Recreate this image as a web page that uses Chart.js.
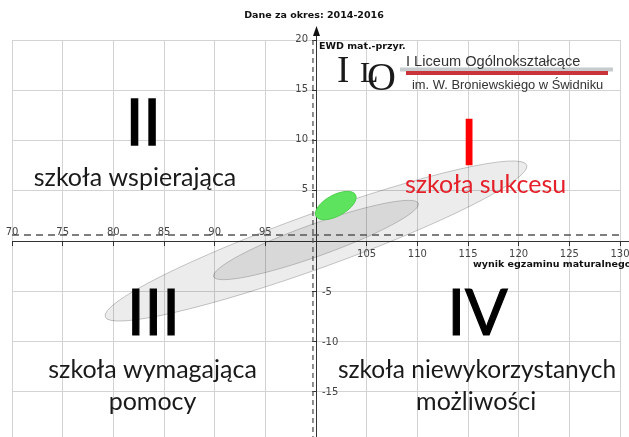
<!DOCTYPE html>
<html><head><meta charset="utf-8">
<script src="https://cdn.jsdelivr.net/npm/chart.js@4.4.1/dist/chart.umd.min.js"></script>
<style>html,body{margin:0;padding:0;background:#fff;overflow:hidden}</style>
</head><body><canvas id="c" width="629" height="437"></canvas>
<script>
// ---- data ----
const xTicks = [70,75,80,85,90,95,100,105,110,115,120,125,130];
const yTicks = [-15,-10,-5,0,5,10,15,20];
const xRange = [70,130];
const yRange = [-19.5,20];
const refLineY = 0.6;   // dashed horizontal reference line (EWD)
const refLineX = 99.7;  // dashed vertical reference line (wynik)
// ellipses: centre, end of major axis, half of minor axis (EWD units)
const ellipseCx   = [100,   100,   101.95];
const ellipseCy   = [0,     0.1,   3.53];
const ellipseTipX = [120.8, 110.1, 103.9];
const ellipseTipY = [7.55,  3.75,  4.6];
const ellipseHalf = [2.7,   1.6,   1.05];
const titleText = 'Dane za okres: 2014-2016';
const yTitle = 'EWD mat.-przyr.';
const xTitle = 'wynik egzaminu maturalnego';
// quadrant captions anchored at (x, y) data values
const captions = [
  {t:'II', x:82.96, y:9.55, big:1.4, c:'#000'},
  {t:'szkoła wspierająca', x:82.14, y:5.47, c:'#1a1a1a'},
  {t:'I', x:115.1, y:7.56, big:0.6, c:'#ff0000'},
  {t:'szkoła sukcesu', x:116.73, y:4.8, c:'#e4202a'},
  {t:'III', x:83.95, y:-9.35, big:1.2, c:'#000'},
  {t:'szkoła wymagająca', x:83.87, y:-13.63, c:'#1a1a1a'},
  {t:'pomocy', x:83.87, y:-16.82, c:'#1a1a1a'},
  {t:'IV', x:115.94, y:-9.35, big:1.2, c:'#000'},
  {t:'szkoła niewykorzystanych', x:115.89, y:-13.63, c:'#1a1a1a', s:24.5},
  {t:'możliwości', x:115.8, y:-16.82, c:'#1a1a1a'}
];

const deco = {
  id:'deco',
  beforeDatasetsDraw(chart){
    const {ctx, scales:{x, y}} = chart;
    const fills = ['rgba(0,0,0,0.075)','rgba(0,0,0,0.085)','#5ee35e'];
    const strokes = ['rgba(0,0,0,0.22)','rgba(0,0,0,0.2)','#4fcf4f'];
    for (let i=0;i<ellipseCx.length;i++){
      const cx = x.getPixelForValue(ellipseCx[i]), cy = y.getPixelForValue(ellipseCy[i]);
      const tx = x.getPixelForValue(ellipseTipX[i]), ty = y.getPixelForValue(ellipseTipY[i]);
      const a = Math.hypot(tx-cx, ty-cy), ang = Math.atan2(ty-cy, tx-cx);
      const b = Math.abs(y.getPixelForValue(0) - y.getPixelForValue(ellipseHalf[i]));
      ctx.save();
      ctx.beginPath();
      ctx.ellipse(cx, cy, a, b, ang, 0, Math.PI*2);
      ctx.fillStyle = fills[i]; ctx.fill();
      ctx.lineWidth = 1; ctx.strokeStyle = strokes[i]; ctx.stroke();
      ctx.restore();
    }
  },
  afterDraw(chart){
    const {ctx, scales:{x, y}} = chart;
    const ax = x.getPixelForValue(100), ay = y.getPixelForValue(0);
    ctx.save();
    // axis extensions and arrow
    ctx.strokeStyle = '#333'; ctx.lineWidth = 1;
    ctx.beginPath(); ctx.moveTo(Math.round(ax)+0.5, chart.chartArea.top); ctx.lineTo(Math.round(ax)+0.5, 32); ctx.stroke();
    ctx.beginPath(); ctx.moveTo(chart.chartArea.right, Math.round(ay)+0.5); ctx.lineTo(629, Math.round(ay)+0.5); ctx.stroke();
    ctx.fillStyle = '#111';
    ctx.beginPath(); ctx.moveTo(ax+0.5, 26); ctx.lineTo(ax+4, 36); ctx.lineTo(ax-3, 36); ctx.closePath(); ctx.fill();
    // tick labels
    ctx.font = '10px "DejaVu Sans"'; ctx.fillStyle = '#444';
    ctx.textAlign = 'center'; ctx.textBaseline = 'alphabetic';
    xTicks.forEach(v => {
      if (v === 100) return;
      const px = x.getPixelForValue(v);
      ctx.fillText(String(v), px, v < 100 ? ay - 6 : ay + 16);
    });
    ctx.textBaseline = 'middle';
    yTicks.forEach(v => {
      if (v === 0) return;
      const py = y.getPixelForValue(v);
      if (v > 0) { ctx.textAlign = 'right'; ctx.fillText(String(v), ax - 8, py - 1); }
      else { ctx.textAlign = 'left'; ctx.fillText(String(v), ax + 6, py + 1); }
    });
    // titles
    ctx.fillStyle = '#111';
    ctx.font = 'bold 9.5px "DejaVu Sans"';
    ctx.textAlign = 'center'; ctx.textBaseline = 'alphabetic';
    ctx.fillText(titleText, 314, 18);
    ctx.textAlign = 'left';
    ctx.fillText(yTitle, ax + 3, 49);
    ctx.fillText(xTitle, 473, 267);
    // logo
    ctx.fillStyle = '#1a1a1a';
    ctx.font = '37px "Liberation Serif"'; ctx.fillText('I', 337, 82);
    ctx.font = '30px "Liberation Serif"'; ctx.fillText('L', 360, 82);
    ctx.font = '40px "Liberation Serif"'; ctx.fillText('O', 367, 90);
    ctx.fillStyle = '#c6cccd'; ctx.fillRect(400, 67.5, 213, 4);
    ctx.fillStyle = '#c9343a'; ctx.fillRect(406, 71, 202, 4);
    ctx.fillStyle = '#333';
    ctx.font = '14.6px "Liberation Sans"'; ctx.fillText('I Liceum Ogólnokształcące', 406, 66);
    ctx.font = '12.9px "Liberation Sans"'; ctx.fillText('im. W. Broniewskiego w Świdniku', 412, 89);
    // captions
    ctx.textAlign = 'center'; ctx.textBaseline = 'alphabetic'; ctx.lineJoin = 'miter';
    captions.forEach(c => {
      const px = x.getPixelForValue(c.x), py = y.getPixelForValue(c.y);
      ctx.fillStyle = c.c;
      ctx.font = c.big ? '63px Lato' : (c.s || 25) + 'px Lato';
      ctx.fillText(c.t, px, py);
      if (c.big) { ctx.strokeStyle = c.c; ctx.lineWidth = c.big; ctx.strokeText(c.t, px, py); }
    });
    ctx.restore();
  }
};

new Chart(document.getElementById('c'), {
  type: 'line',
  data: {
    datasets: [
      {data: [{x:xRange[0], y:refLineY},{x:xRange[1], y:refLineY}], borderColor:'#555', borderWidth:1.3, borderDash:[7,5], pointRadius:0, fill:false},
      {data: [{x:refLineX, y:yRange[1]},{x:refLineX, y:yRange[0]}], borderColor:'#555', borderWidth:1.3, borderDash:[5,4], pointRadius:0, fill:false}
    ]
  },
  options: {
    responsive:false, animation:false,
    layout:{padding:{left:12, right:9, top:40, bottom:0}},
    plugins:{legend:{display:false}, tooltip:{enabled:false}},
    scales:{
      x:{type:'linear', min:xRange[0], max:xRange[1], position:{y:0},
         afterBuildTicks: s => { s.ticks = xTicks.map(v => ({value:v})); },
         grid:{color:'#d3d3d3', lineWidth:1, drawTicks:true, tickLength:4, tickColor:'#333'},
         border:{display:true, color:'#333', width:1},
         ticks:{display:false}},
      y:{type:'linear', min:yRange[0], max:yRange[1], position:{x:100},
         afterBuildTicks: s => { s.ticks = yTicks.map(v => ({value:v})); },
         grid:{color:'#d3d3d3', lineWidth:1, drawTicks:true, tickLength:4, tickColor:'#333'},
         border:{display:true, color:'#333', width:1},
         ticks:{display:false}}
    }
  },
  plugins:[deco]
});
</script></body></html>
